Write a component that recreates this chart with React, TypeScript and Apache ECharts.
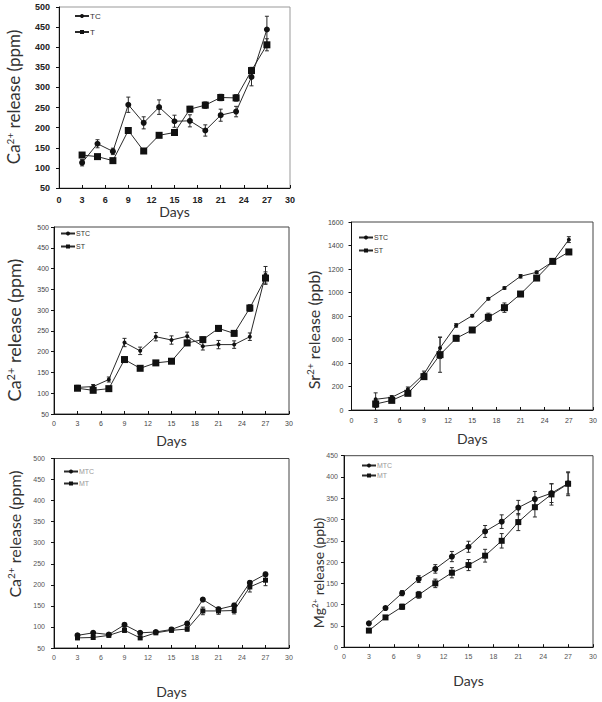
import React, { useEffect, useRef } from "react";
import * as echarts from "echarts";

// ---------- data ----------
const days = [3, 5, 7, 9, 11, 13, 15, 17, 19, 21, 23, 25, 27];
const xTicks = [0, 3, 6, 9, 12, 15, 18, 21, 24, 27, 30];

// Panel 1: Ca2+ release (ppm), TC / T
const tcVals = [113, 160, 141, 257, 212, 251, 216, 217, 193, 231, 240, 326, 444];
const tcErr = [8, 10, 8, 19, 15, 18, 15, 15, 14, 15, 13, 22, 33];
const tVals = [132, 128, 118, 193, 142, 181, 188, 246, 256, 275, 274, 342, 406];
const tErr = [5, 4, 5, 6, 5, 5, 6, 7, 8, 8, 8, 8, 15];

// Panel 2: Ca2+ release (ppm), STC / ST
const stcCaVals = [114, 116, 133, 222, 202, 236, 228, 237, 213, 217, 217, 236, 385];
const stcCaErr = [5, 5, 6, 10, 9, 10, 10, 10, 9, 10, 9, 9, 20];
const stCaVals = [112, 107, 111, 181, 160, 173, 177, 221, 229, 256, 244, 305, 377];
const stCaErr = [4, 4, 4, 6, 5, 5, 5, 6, 6, 7, 6, 8, 15];

// Panel 3: Sr2+ release (ppb), STC / ST
const stcSrVals = [91, 108, 176, 306, 528, 720, 803, 947, 1038, 1138, 1172, 1262, 1450];
const stcSrErr = [55, 15, 20, 25, 90, 15, 10, 10, 10, 15, 10, 15, 25];
const stSrVals = [51, 82, 142, 284, 471, 610, 681, 789, 871, 987, 1123, 1265, 1345];
const stSrErr = [30, 15, 15, 20, 150, 20, 10, 35, 40, 15, 20, 20, 20];

// Panel 4: Ca2+ release (ppm), MTC / MT
const mtcCaVals = [80, 86, 82, 105, 86, 88, 94, 108, 165, 142, 151, 205, 225];
const mtcCaErr = [4, 4, 4, 5, 4, 4, 4, 5, 4, 5, 5, 5, 5];
const mtCaVals = [74, 75, 80, 92, 74, 86, 92, 95, 138, 138, 139, 195, 211];
const mtCaErr = [4, 4, 4, 5, 4, 4, 4, 5, 9, 8, 8, 12, 13];

// Panel 5: Mg2+ release (ppb), MTC / MT
const mtcMgVals = [56, 92, 127, 160, 184, 213, 236, 272, 295, 328, 348, 362, 385];
const mtcMgErr = [3, 4, 6, 8, 10, 12, 13, 14, 16, 17, 18, 22, 25];
const mtMgVals = [39, 70, 95, 123, 150, 175, 193, 215, 250, 294, 329, 359, 384];
const mtMgErr = [3, 4, 6, 8, 10, 12, 13, 15, 17, 20, 23, 25, 28];

// ---------- layout / style ----------
type Panel = {
  grid: { left: number; top: number; width: number; height: number };
  yMin: number; yMax: number; yInt: number;
  names: [string, string];
  vals: [number[], number[]];
  errs: [number[], number[]];
  ion: string; ionUnit: string;
  titleX: number; titleY: number; titleSize: number;
  daysGap: number;
  xMargin: number; yMargin: number;
  tickFont: number; tickBold: boolean; tickColor: string;
  legend: { left: number; top: number; gap: number; font: number; color: string };
  circleSize: number; squareSize: number;
  frameColor: string;
};

const panels: Panel[] = [
  {
    grid: { left: 59, top: 7, width: 231, height: 181 },
    yMin: 50, yMax: 500, yInt: 50,
    names: ["TC", "T"], vals: [tcVals, tVals], errs: [tcErr, tErr],
    ion: "Ca", ionUnit: " release (ppm)",
    titleX: 13, titleY: 97, titleSize: 17, daysGap: 15,
    xMargin: 7, yMargin: 9, tickFont: 9, tickBold: true, tickColor: "#222",
    legend: { left: 74, top: 12, gap: 8, font: 8, color: "#333" },
    circleSize: 6, squareSize: 7, frameColor: "#999",
  },
  {
    grid: { left: 54, top: 227, width: 235, height: 187 },
    yMin: 50, yMax: 500, yInt: 50,
    names: ["STC", "ST"], vals: [stcCaVals, stCaVals], errs: [stcCaErr, stCaErr],
    ion: "Ca", ionUnit: " release (ppm)",
    titleX: 14, titleY: 330, titleSize: 18, daysGap: 19,
    xMargin: 6, yMargin: 5, tickFont: 7, tickBold: false, tickColor: "#444",
    legend: { left: 60, top: 230, gap: 6, font: 7, color: "#333" },
    circleSize: 4, squareSize: 7, frameColor: "#444",
  },
  {
    grid: { left: 351.5, top: 222, width: 241.5, height: 188 },
    yMin: 0, yMax: 1600, yInt: 200,
    names: ["STC", "ST"], vals: [stcSrVals, stSrVals], errs: [stcSrErr, stSrErr],
    ion: "Sr", ionUnit: " release (ppb)",
    titleX: 313, titleY: 330, titleSize: 16, daysGap: 21,
    xMargin: 7, yMargin: 8, tickFont: 7, tickBold: false, tickColor: "#444",
    legend: { left: 358, top: 234, gap: 6, font: 7, color: "#333" },
    circleSize: 4, squareSize: 7, frameColor: "#444",
  },
  {
    grid: { left: 54, top: 458.5, width: 235, height: 189.5 },
    yMin: 50, yMax: 500, yInt: 50,
    names: ["MTC", "MT"], vals: [mtcCaVals, mtCaVals], errs: [mtcCaErr, mtCaErr],
    ion: "Ca", ionUnit: " release (ppm)",
    titleX: 14, titleY: 534, titleSize: 16, daysGap: 36,
    xMargin: 6, yMargin: 9, tickFont: 7, tickBold: false, tickColor: "#555",
    legend: { left: 63, top: 468, gap: 5, font: 7, color: "#999" },
    circleSize: 6, squareSize: 5, frameColor: "#444",
  },
  {
    grid: { left: 344, top: 455.7, width: 249, height: 191.5 },
    yMin: 0, yMax: 450, yInt: 50,
    names: ["MTC", "MT"], vals: [mtcMgVals, mtMgVals], errs: [mtcMgErr, mtMgErr],
    ion: "Mg", ionUnit: " release (ppb)",
    titleX: 318, titleY: 573, titleSize: 14, daysGap: 26,
    xMargin: 6, yMargin: 6, tickFont: 7, tickBold: false, tickColor: "#555",
    legend: { left: 361, top: 462, gap: 3, font: 7, color: "#999" },
    circleSize: 6, squareSize: 6, frameColor: "#444",
  },
];

const LINE = "#2a2a2a";

function errRender(params: any, api: any) {
  const x = api.value(0);
  const y = api.value(1);
  const e = api.value(2);
  const top = api.coord([x, y + e]);
  const bot = api.coord([x, y - e]);
  const w = 2;
  const style = { stroke: LINE, lineWidth: 1 };
  return {
    type: "group",
    children: [
      { type: "line", shape: { x1: top[0], y1: top[1], x2: bot[0], y2: bot[1] }, style },
      { type: "line", shape: { x1: top[0] - w, y1: top[1], x2: top[0] + w, y2: top[1] }, style },
      { type: "line", shape: { x1: bot[0] - w, y1: bot[1], x2: bot[0] + w, y2: bot[1] }, style },
    ],
  };
}

function buildOption() {
  const grid: any[] = [];
  const xAxis: any[] = [];
  const yAxis: any[] = [];
  const series: any[] = [];
  const legend: any[] = [];
  const graphic: any[] = [];

  panels.forEach((p, i) => {
    grid.push({
      ...p.grid,
      show: true,
      borderColor: p.frameColor,
      borderWidth: 1,
      backgroundColor: "transparent",
      containLabel: false,
    });
    const labelFont = {
      fontFamily: "Liberation Sans",
      fontSize: p.tickFont,
      fontWeight: p.tickBold ? "bold" : "normal",
      color: p.tickColor,
    };
    xAxis.push({
      type: "value",
      gridIndex: i,
      min: xTicks[0],
      max: xTicks[xTicks.length - 1],
      interval: xTicks[1] - xTicks[0],
      axisLine: { show: true, onZero: false, lineStyle: { color: "#111", width: 1 } },
      axisTick: { show: true, inside: true, length: 3, lineStyle: { color: "#111" } },
      axisLabel: {
        ...labelFont,
        margin: p.xMargin,
        showMinLabel: true,
        showMaxLabel: true,
        formatter: (v: number) => String(v),
      },
      splitLine: { show: false },
      name: "Days",
      nameLocation: "middle",
      nameGap: p.daysGap,
      nameTextStyle: { fontFamily: "Lato", fontSize: 14, color: "#333" },
    });
    yAxis.push({
      type: "value",
      gridIndex: i,
      min: p.yMin,
      max: p.yMax,
      interval: p.yInt,
      axisLine: { show: true, onZero: false, lineStyle: { color: "#111", width: 1 } },
      axisTick: { show: true, inside: false, length: 3, lineStyle: { color: "#111" } },
      axisLabel: {
        ...labelFont,
        margin: p.yMargin,
        showMinLabel: true,
        showMaxLabel: true,
        formatter: (v: number) => String(v),
      },
      splitLine: { show: false },
    });

    const symbols = ["circle", "rect"];
    const sizes = [p.circleSize, p.squareSize];
    [0, 1].forEach((k) => {
      series.push({
        type: "custom",
        name: "err-" + p.names[k] + "-" + i,
        xAxisIndex: i,
        yAxisIndex: i,
        renderItem: errRender,
        encode: { x: 0, y: 1 },
        data: days.map((d, j) => [d, p.vals[k][j], p.errs[k][j]]),
        z: 2,
        silent: true,
      });
      series.push({
        type: "line",
        name: p.names[k],
        xAxisIndex: i,
        yAxisIndex: i,
        data: days.map((d, j) => [d, p.vals[k][j]]),
        symbol: symbols[k],
        symbolSize: sizes[k],
        showSymbol: true,
        lineStyle: { color: LINE, width: 1 },
        itemStyle: { color: "#111", borderWidth: 0 },
        z: 3,
      });
    });

    legend.push({
      data: p.names,
      orient: "vertical",
      left: p.legend.left,
      top: p.legend.top,
      itemWidth: 14,
      itemHeight: 5,
      itemGap: p.legend.gap,
      selectedMode: false,
      padding: 0,
      textStyle: {
        fontFamily: "Liberation Sans",
        fontSize: p.legend.font,
        color: p.legend.color,
        padding: [0, 0, 0, -4],
      },
    });

    graphic.push({
      type: "text",
      x: p.titleX,
      y: p.titleY,
      rotation: Math.PI / 2,
      style: {
        text: "{b|" + p.ion + "}{s|2+}{b|" + p.ionUnit + "}",
        align: "center",
        verticalAlign: "middle",
        rich: {
          b: { fontFamily: "Lato", fontSize: p.titleSize, fill: "#333" },
          s: { fontFamily: "Lato", fontSize: Math.round(p.titleSize * 0.6), fill: "#333", verticalAlign: "top" },
        },
      },
    });
  });

  return {
    animation: false,
    backgroundColor: "#fff",
    grid,
    xAxis,
    yAxis,
    series,
    legend,
    graphic,
  };
}

export default function App() {
  const ref = useRef<HTMLDivElement>(null);
  useEffect(() => {
    if (!ref.current) return;
    const chart = echarts.init(ref.current, undefined, { renderer: "svg" });
    chart.setOption(buildOption() as any);
    return () => chart.dispose();
  }, []);
  return (
    <div
      ref={ref}
      style={{ width: 602, height: 702, position: "absolute", left: 0, top: 0, background: "#fff" }}
    />
  );
}
